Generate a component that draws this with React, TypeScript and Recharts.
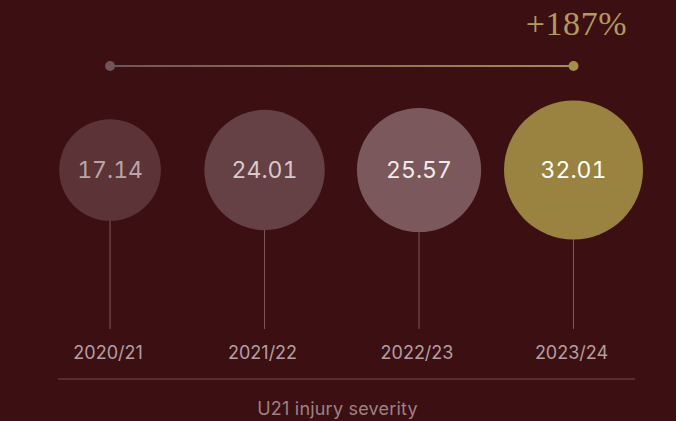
import React from "react";
import { ComposedChart, Scatter, Line, XAxis, YAxis, ZAxis } from "recharts";

const seasons = ["2020/21", "2021/22", "2022/23", "2023/24"];
const severity = [17.14, 24.01, 25.57, 32.01];
const bubbleFills = ["#5c3337", "#654044", "#7a585b", "#9a8340"];
const textFills = ["#b9a5a7", "#d8cacb", "#f2eaea", "#ffffff"];

const BG = "#3c0f13";
const W = 676;
const H = 421;

// vertical layout levels (y axis runs top -> bottom)
const TREND_LEVEL = 66;
const BUBBLE_LEVEL = 170;
const STEM_END = 329;
const MAX_R = 69.5;

const data = seasons.map((s, i) => ({ i, season: s, value: severity[i], y: BUBBLE_LEVEL }));
const trend = [
  { i: 0, y: TREND_LEVEL },
  { i: seasons.length - 1, y: TREND_LEVEL },
];
const growth = `+${Math.round((severity[severity.length - 1] / severity[0]) * 100)}%`;

const Bubble = (props: any) => {
  const { cx, cy, size, payload } = props;
  const r = size ? Math.sqrt(size / Math.PI) : MAX_R * Math.sqrt(payload.value / Math.max(...severity));
  const k = payload.i;
  return (
    <g>
      <line x1={cx} x2={cx} y1={cy + r - 1} y2={cy + (STEM_END - BUBBLE_LEVEL)} stroke="#7b575a" strokeWidth={1} />
      <circle cx={cx} cy={cy} r={r} fill={bubbleFills[k]} />
      <text
        x={cx}
        y={cy}
        textAnchor="middle"
        dominantBaseline="central"
        fill={textFills[k]}
        fontFamily="Inter, sans-serif"
        fontSize={23}
        style={{ fontVariantNumeric: "tabular-nums", fontFeatureSettings: "'tnum'" }}
      >
        {payload.value.toFixed(2)}
      </text>
    </g>
  );
};

const TrendDot = (props: any) => {
  const { cx, cy, index } = props;
  const last = index === trend.length - 1;
  return (
    <g>
      <circle cx={cx} cy={cy} r={5} fill={last ? "#a38f4a" : "#6f5558"} />
      {last && (
        <text
          x={cx + 3}
          y={cy - 31}
          textAnchor="middle"
          fill="#b29b5c"
          fontFamily="'Liberation Serif', serif"
          fontSize={34}
          letterSpacing={0.6}
        >
          {growth}
        </text>
      )}
    </g>
  );
};

const SeasonTick = (props: any) => {
  const { x, y, payload } = props;
  return (
    <text
      x={x - 2}
      y={y - 29}
      textAnchor="middle"
      dominantBaseline="central"
      fill="#b39fa1"
      fontFamily="Inter, sans-serif"
      fontSize={18}
    >
      {seasons[payload.value]}
    </text>
  );
};

export default function App() {
  return (
    <div style={{ position: "absolute", left: 0, top: 0, width: W, height: H, background: BG }}>
      <ComposedChart width={W} height={H} margin={{ top: 0, right: 41, bottom: 0, left: 58 }}>
        <defs>
          <linearGradient id="trendGrad" gradientUnits="userSpaceOnUse" x1={110} y1={0} x2={574} y2={0}>
            <stop offset="0%" stopColor="#6f5558" />
            <stop offset="100%" stopColor="#a38f4a" />
          </linearGradient>
        </defs>
        <XAxis
          type="number"
          dataKey="i"
          domain={[-0.337, 3.398]}
          ticks={[0, 1, 2, 3]}
          height={42}
          tickLine={false}
          tickSize={0}
          axisLine={{ stroke: "#6e4b4f", strokeWidth: 1 }}
          tick={<SeasonTick />}
          label={{
            value: "U21 injury severity",
            position: "insideBottom",
            offset: 6,
            fill: "#9b8284",
            fontFamily: "Inter, sans-serif",
            fontSize: 18,
            letterSpacing: 0.2,
            dx: -9,
          }}
        />
        <YAxis type="number" dataKey="y" domain={[0, 379]} reversed hide />
        <ZAxis type="number" dataKey="value" domain={[0, Math.max(...severity)]} range={[0, Math.PI * MAX_R * MAX_R]} />
        <Line
          data={trend}
          dataKey="y"
          stroke="url(#trendGrad)"
          strokeWidth={2}
          dot={<TrendDot />}
          activeDot={false}
          isAnimationActive={false}
        />
        <Scatter data={data} dataKey="y" shape={<Bubble />} isAnimationActive={false} />
      </ComposedChart>
    </div>
  );
}
